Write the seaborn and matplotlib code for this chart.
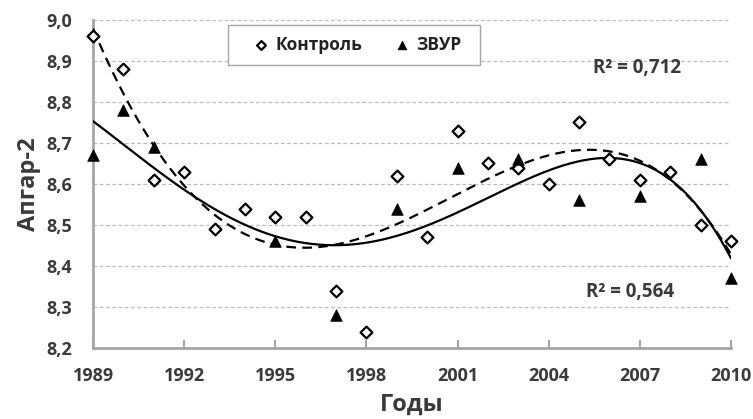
import numpy as np
import pandas as pd
import matplotlib
matplotlib.use("Agg")
import matplotlib.pyplot as plt
from matplotlib.ticker import FuncFormatter
from matplotlib.patches import Rectangle
import seaborn as sns

# ---- data ----
years_ctrl = list(range(1989, 2011))
ctrl_values = [8.96, 8.88, 8.61, 8.63, 8.49, 8.54, 8.52, 8.52, 8.34, 8.24, 8.62,
               8.47, 8.73, 8.65, 8.64, 8.60, 8.75, 8.66, 8.61, 8.63, 8.50, 8.46]
years_zvur = [1989, 1990, 1991, 1995, 1997, 1999, 2001, 2003, 2005, 2007, 2009, 2010]
zvur_values = [8.67, 8.78, 8.69, 8.46, 8.28, 8.54, 8.64, 8.66, 8.56, 8.57, 8.66, 8.37]
series_names = ["Контроль", "ЗВУР"]
trend_degree = {"Контроль": 4, "ЗВУР": 4}
r2_labels = {"Контроль": "R² = 0,712", "ЗВУР": "R² = 0,564"}
x_ticks = [1989, 1992, 1995, 1998, 2001, 2004, 2007, 2010]
y_ticks = [8.2, 8.3, 8.4, 8.5, 8.6, 8.7, 8.8, 8.9, 9.0]
x_label = "Годы"
y_label = "Апгар-2"

df_ctrl = pd.DataFrame({"year": years_ctrl, "value": ctrl_values, "group": series_names[0]})
df_zvur = pd.DataFrame({"year": years_zvur, "value": zvur_values, "group": series_names[1]})

# trend lines (polynomial fits, as in a spreadsheet trendline)
def trend(df, deg):
    x = df["year"].to_numpy(float)
    p = np.polyfit(x - 2000, df["value"].to_numpy(float), deg)
    xx = np.linspace(x.min(), x.max(), 300)
    return pd.DataFrame({"year": xx, "value": np.polyval(p, xx - 2000)})

tr_ctrl = trend(df_ctrl, trend_degree["Контроль"])
tr_zvur = trend(df_zvur, trend_degree["ЗВУР"])

# ---- style ----
sns.set_theme(style="white")
plt.rcParams["font.family"] = ["Open Sans", "DejaVu Sans"]
txt = "#3a3a3a"

W, H = 753, 419
fig = plt.figure(figsize=(W / 100, H / 100), dpi=100)
ax_l, ax_r, ax_t, ax_b = 93, 731, 20, 348
ax = fig.add_axes([ax_l / W, 1 - ax_b / H, (ax_r - ax_l) / W, (ax_b - ax_t) / H])

def ax_frac(px, py):
    return (px - ax_l) / (ax_r - ax_l), (ax_b - py) / (ax_b - ax_t)

sns.lineplot(data=tr_ctrl, x="year", y="value", ax=ax, color="black", lw=1.6,
             linestyle=(0, (4.4, 2.8)), zorder=3)
sns.lineplot(data=tr_zvur, x="year", y="value", ax=ax, color="black", lw=1.6, zorder=3)

sns.scatterplot(data=df_ctrl, x="year", y="value", ax=ax, marker="D", s=36,
                facecolor="white", edgecolor="black", linewidth=1.6, zorder=4,
                label=series_names[0])
sns.scatterplot(data=df_zvur, x="year", y="value", ax=ax, marker="^", s=70,
                color="black", edgecolor="black", linewidth=0.5, zorder=5,
                label=series_names[1])
for c in ax.collections:
    c.set_clip_on(False)

ax.set_xlim(1989, 2010)
ax.set_ylim(8.2, 9.0)
ax.set_xticks(x_ticks)
ax.set_yticks(y_ticks)
ax.yaxis.set_major_formatter(FuncFormatter(lambda v, _: f"{v:.1f}".replace(".", ",")))
ax.xaxis.set_major_formatter(FuncFormatter(lambda v, _: f"{int(round(v))}"))

ax.grid(axis="y", color="#bdbdbd", linestyle=(0, (3, 2)), linewidth=0.9)
ax.set_axisbelow(True)
for s in ["top", "right"]:
    ax.spines[s].set_visible(False)
for s in ["left", "bottom"]:
    ax.spines[s].set_color("#a6a6a6")
    ax.spines[s].set_linewidth(2)
ax.tick_params(axis="x", direction="in", length=6, width=1.5, color="#a6a6a6",
               labelsize=13, labelcolor=txt, pad=14, bottom=True)
ax.tick_params(axis="y", length=0, labelsize=13, labelcolor=txt, pad=15, left=False)
for lab in ax.get_xticklabels() + ax.get_yticklabels():
    lab.set_fontweight("bold")

ax.set_xlabel(x_label, fontsize=17, fontweight="bold", color=txt, labelpad=5)
ax.set_ylabel(y_label, fontsize=17, fontweight="bold", color=txt, labelpad=4)

# legend box
bx0, by0 = ax_frac(228, 65)
bx1, by1 = ax_frac(480, 25)
ax.add_patch(Rectangle((bx0, by0), bx1 - bx0, by1 - by0, transform=ax.transAxes,
                       facecolor="white", edgecolor="#a6a6a6", lw=1.0, zorder=6,
                       clip_on=False))
cx, cy = ax_frac(357, 45)
leg = ax.legend(loc="center", bbox_to_anchor=(cx, cy), ncol=2, frameon=False,
                fontsize=12.5, handletextpad=0.3, columnspacing=1.8,
                borderpad=0.0, handlelength=1.0, markerscale=0.75)
leg.set_zorder(7)
for t in leg.get_texts():
    t.set_fontweight("bold")
    t.set_color("#222222")

ax.text(2005.46, 8.883, r2_labels["Контроль"], fontsize=13.5, fontweight="bold",
        color=txt, va="center", ha="left")
ax.text(2005.23, 8.337, r2_labels["ЗВУР"], fontsize=13.5, fontweight="bold",
        color=txt, va="center", ha="left")

fig.savefig("out.png", dpi=100)
